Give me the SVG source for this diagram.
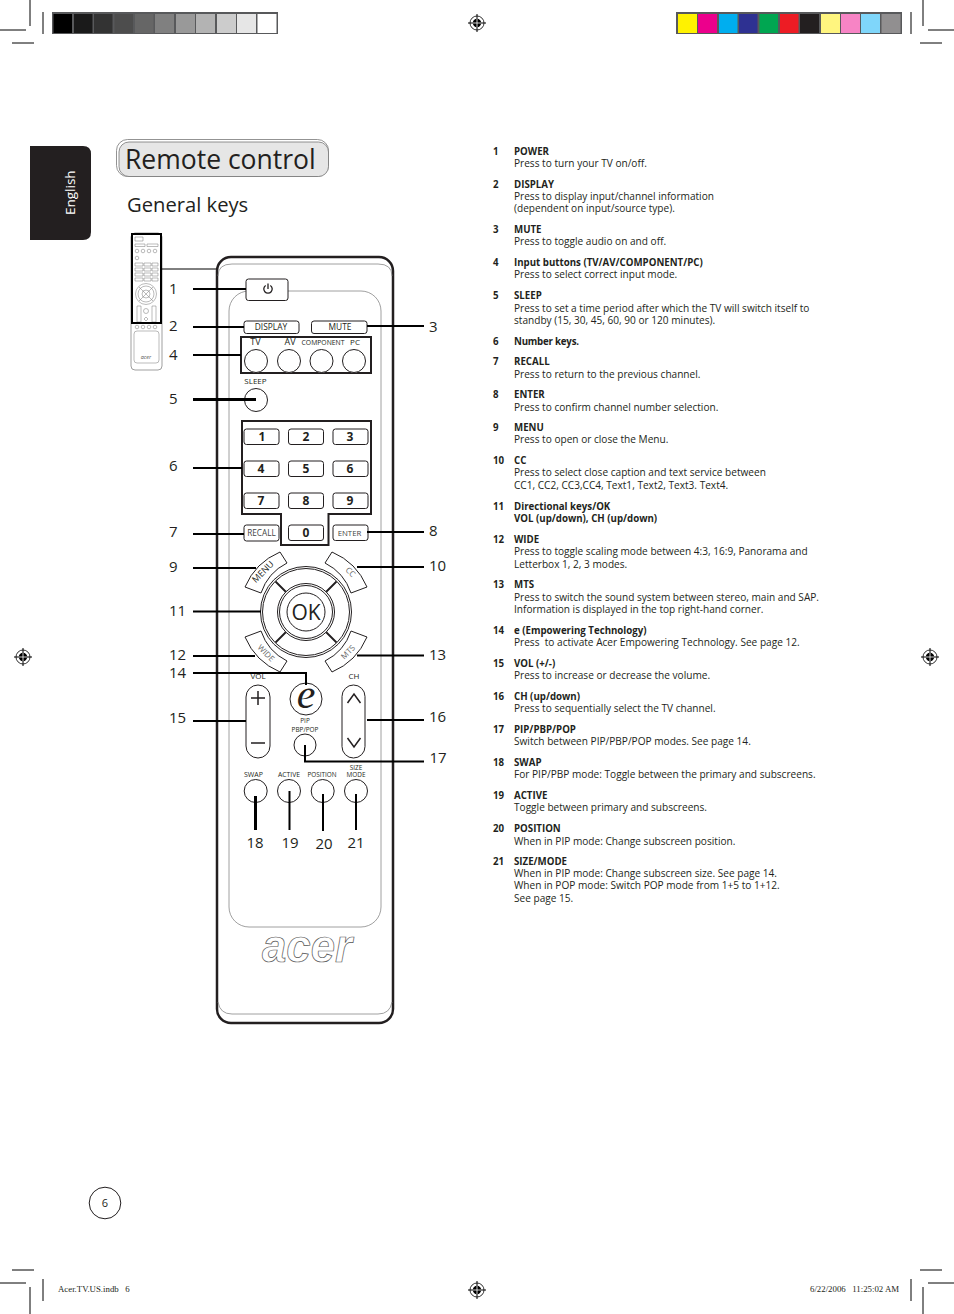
<svg xmlns="http://www.w3.org/2000/svg" width="954" height="1314" viewBox="0 0 954 1314">
<style>
text{font-family:"Open Sans","Noto Sans",sans-serif;fill:#231f20}
.b{font-size:9.7px;font-weight:700}
.t{font-size:10.1px}
.n{font-size:15px}
.k{font-size:8px;text-anchor:middle}
.s{font-size:6.4px;text-anchor:middle}
.d{font-size:12px;font-weight:700;text-anchor:middle}
.f{font-family:"Liberation Serif",serif;font-size:8.8px}
.crop{stroke:#000;stroke-width:1;fill:none}
.btn{fill:#fff;stroke:#231f20;stroke-width:1}
.hi{fill:none;stroke:#231f20;stroke-width:2}
.thin{fill:none;stroke:#888;stroke-width:.8}
.con{fill:none;stroke:#000;stroke-width:2}
.tb{fill:none;stroke:#777;stroke-width:.5}
</style>
<defs>
<g id="reg">
<circle r="7" fill="#fff" stroke="#000" stroke-width=".8"/>
<circle r="4.2" fill="#000"/>
<path d="M-9 0H9M0-9V9" stroke="#000" stroke-width="1"/>
<path d="M-4.2 0H4.2M0-4.2V4.2" stroke="#fff" stroke-width=".8"/>
</g>
<path id="arc" d="M-61-25A66 66 0 0 1-26-60L-19-49A52 52 0 0 0-45-19Z" fill="#fff" stroke="#231f20" stroke-width="1" stroke-linejoin="round"/>
</defs>
<g id="printer-marks">
<path class="crop" d="M30 0V26M0 30H26M43 12V34M12 43H34M923 0V26M928 30H954M911 12V34M920 43H942M12 1270H34M0 1283H26M30 1287V1314M43 1279V1301M920 1270H942M928 1283H954M911 1279V1301M923 1287V1314"/>
<use href="#reg" x="477" y="23"/><use href="#reg" x="23" y="657"/><use href="#reg" x="930" y="657"/><use href="#reg" x="477" y="1290"/>
<rect x="52" y="12" width="226" height="22" fill="#58595b"/>
<g id="gray-bar">
<rect x="53.500" y="14" width="18.500" height="19" fill="#000"/><rect x="74" y="14" width="18.500" height="19" fill="#1a1a1a"/><rect x="94" y="14" width="18.500" height="19" fill="#333"/><rect x="114.500" y="14" width="18.500" height="19" fill="#4d4d4d"/><rect x="135" y="14" width="18.500" height="19" fill="#666"/><rect x="155" y="14" width="19" height="19" fill="#808080"/><rect x="176" y="14" width="19" height="19" fill="#999"/><rect x="196" y="14" width="19" height="19" fill="#b3b3b3"/><rect x="217" y="14" width="19" height="19" fill="#ccc"/><rect x="237" y="14" width="19" height="19" fill="#e6e6e6"/><rect x="257.500" y="14" width="19" height="19" fill="#fff"/>
</g>
<rect x="676" y="12" width="226" height="22" fill="#58595b"/>
<g id="colour-bar">
<rect x="678" y="14" width="19" height="19" fill="#fff200"/><rect x="698" y="14" width="19" height="19" fill="#ec008c"/><rect x="719" y="14" width="18.500" height="19" fill="#00aeef"/><rect x="739" y="14" width="18.500" height="19" fill="#2e3192"/><rect x="759.500" y="14" width="18.500" height="19" fill="#00a651"/><rect x="780" y="14" width="18.500" height="19" fill="#ed1c24"/><rect x="800" y="14" width="19" height="19" fill="#231f20"/><rect x="821" y="14" width="19" height="19" fill="#fff57f"/><rect x="841" y="14" width="19" height="19" fill="#f784c5"/><rect x="861" y="14" width="19" height="19" fill="#7fd6fa"/><rect x="881.500" y="14" width="19" height="19" fill="#918f90"/>
</g>
</g>
<g id="language-tab">
<path d="M30 146H83Q91 146 91 154V232Q91 240 83 240H30Z" fill="#231f20"/>
<text transform="translate(75,215) rotate(-90)" style="fill:#fff;font-size:13.500px">English</text>
</g>
<g id="title">
<rect x="116.500" y="139.500" width="212" height="37" rx="11" fill="#fff" stroke="#777" stroke-width=".8"/>
<rect x="119" y="142" width="209.500" height="34.500" rx="10" fill="#e6e6e6" stroke="#777" stroke-width=".8"/>
<text x="125" y="169" style="font-size:26.500px">Remote control</text>
<text x="127" y="211.500" style="font-size:20.200px">General keys</text>
</g>
<g id="thumbnail">
<rect x="131" y="233" width="31" height="137" rx="4" fill="#fff" stroke="#777" stroke-width=".7"/>
<path class="tb" d="M135 237H143V241H135ZM135 244H145V246.500H135ZM147 244H158V246.500H147ZM135 263H143V266H135ZM144 263H151V266H144ZM152 263H158V266H152ZM135 268H143V271H135ZM144 268H151V271H144ZM152 268H158V271H152ZM135 273H143V276H135ZM144 273H151V276H144ZM152 273H158V276H152ZM135 278H143V281H135ZM144 278H151V281H144ZM152 278H158V281H152ZM137 306H141V322H137ZM152 306H156V322H152ZM146 317L148 319L146 321L144 319ZM139 287L153 301M153 287L139 301"/>
<g class="tb"><circle cx="137" cy="251" r="1.800"/><circle cx="143" cy="251" r="1.800"/><circle cx="149" cy="251" r="1.800"/><circle cx="155" cy="251" r="1.800"/><circle cx="137" cy="258" r="1.800"/><circle cx="146" cy="294" r="10.500"/><circle cx="146" cy="294" r="8"/><circle cx="146" cy="294" r="4"/><circle cx="146" cy="311" r="2.500"/><circle cx="137" cy="327" r="1.800"/><circle cx="143" cy="327" r="1.800"/><circle cx="149" cy="327" r="1.800"/><circle cx="155" cy="327" r="1.800"/><rect x="134" y="331" width="25" height="32" rx="3"/></g>
<text x="146" y="358.500" style="font-size:5.500px;font-style:italic;text-anchor:middle;fill:#555">acer</text>
<rect x="132" y="234" width="29" height="89" fill="none" stroke="#000" stroke-width="2"/>
<path d="M161 269H217" stroke="#000" stroke-width="1" fill="none"/>
</g>
<g id="remote-body">
<rect x="217" y="257" width="176" height="766" rx="14" fill="#fff" stroke="#231f20" stroke-width="2.500"/>
<path class="thin" d="M218 276Q218 264 232 264H378Q392 264 392 276M218 1002Q220 1014 232 1014H378Q390 1014 392 1002"/>
<rect class="thin" x="229" y="291" width="152" height="636" rx="20"/>
</g>
<g id="btn-power"><rect class="btn" x="246" y="279" width="42" height="21.500" rx="2.500"/><path d="M265.700 285.500A4.200 4.200 0 1 0 270.300 285.500M268 283.500V289" fill="none" stroke="#231f20" stroke-width="1.300"/></g>
<g id="btn-display"><rect class="btn" x="244" y="321" width="55" height="12.500" rx="2.500"/><text class="k" x="271" y="330" style="font-size:8.400px">DISPLAY</text></g>
<g id="btn-mute"><rect class="btn" x="311.500" y="321" width="55.500" height="12.500" rx="2.500"/><text class="k" x="340" y="330" style="font-size:8.400px">MUTE</text></g>
<g id="input-buttons">
<rect class="hi" x="241" y="337" width="130" height="36"/>
<circle class="btn" cx="256" cy="361" r="11.500"/><circle class="btn" cx="289" cy="361" r="11.500"/><circle class="btn" cx="321.500" cy="361" r="11.500"/><circle class="btn" cx="354" cy="361" r="11.500"/>
<text class="k" x="255.500" y="345" style="font-size:9px">TV</text><text class="k" x="290" y="345" style="font-size:9px">AV</text><text class="s" x="323" y="344.500" style="font-size:6.800px">COMPONENT</text><text class="k" x="355" y="345">PC</text>
</g>
<g id="btn-sleep"><circle class="btn" cx="256" cy="400" r="11.500"/><text class="k" x="255.500" y="383.500">SLEEP</text></g>
<g id="number-keys">
<path class="hi" d="M242 421H371V514H328.500V545H281V514H242Z"/>
<rect class="btn" x="244" y="429" width="35" height="15.500" rx="2.500"/><rect class="btn" x="288.500" y="429" width="35" height="15.500" rx="2.500"/><rect class="btn" x="333" y="429" width="35" height="15.500" rx="2.500"/>
<rect class="btn" x="244" y="461" width="35" height="15.500" rx="2.500"/><rect class="btn" x="288.500" y="461" width="35" height="15.500" rx="2.500"/><rect class="btn" x="333" y="461" width="35" height="15.500" rx="2.500"/>
<rect class="btn" x="244" y="493" width="35" height="15.500" rx="2.500"/><rect class="btn" x="288.500" y="493" width="35" height="15.500" rx="2.500"/><rect class="btn" x="333" y="493" width="35" height="15.500" rx="2.500"/>
<rect class="btn" x="288.500" y="525" width="35" height="15.500" rx="2.500"/>
<text class="d" x="262" y="441">1</text><text class="d" x="306" y="441">2</text><text class="d" x="350" y="441">3</text>
<text class="d" x="261" y="473">4</text><text class="d" x="306" y="473">5</text><text class="d" x="350" y="473">6</text>
<text class="d" x="261" y="505">7</text><text class="d" x="306" y="505">8</text><text class="d" x="350" y="505">9</text>
<text class="d" x="306" y="537">0</text>
</g>
<g id="btn-recall"><rect class="btn" x="244" y="525" width="35" height="16" rx="2.500"/><text class="k" x="261.500" y="536" style="fill:#444;font-size:8.200px">RECALL</text></g>
<g id="btn-enter"><rect class="btn" x="333" y="525" width="35" height="15.500" rx="2.500"/><text class="k" x="349.500" y="535.500" style="fill:#444;font-size:7.800px">ENTER</text></g>
<g id="nav-pad">
<use href="#arc" transform="translate(306,612)"/><use href="#arc" transform="translate(306,612) scale(-1,1)"/><use href="#arc" transform="translate(306,612) scale(1,-1)"/><use href="#arc" transform="translate(306,612) scale(-1,-1)"/>
<circle cx="306" cy="612" r="45.500" fill="#fff" stroke="#231f20" stroke-width="1"/>
<circle cx="306" cy="612" r="43.500" fill="#fff" stroke="#231f20" stroke-width="1"/>
<path d="M275.500 581.500L287 593M336.500 581.500L325 593M275.500 642.500L287 631M336.500 642.500L325 631" stroke="#231f20" stroke-width="1.800" fill="none"/>
<circle cx="306" cy="612" r="28.500" fill="#fff" stroke="#231f20" stroke-width="1"/>
<circle cx="306" cy="612" r="26.500" fill="#fff" stroke="#231f20" stroke-width="1"/>
<circle cx="306" cy="612" r="19" fill="#fff" stroke="#231f20" stroke-width="1"/>
<text x="306" y="619.500" style="font-size:21px;font-weight:500;text-anchor:middle">OK</text>
<text class="k" transform="translate(265,574) rotate(-45)" style="font-size:9px">MENU</text>
<text class="k" transform="translate(348.500,574) rotate(45)" style="fill:#666">CC</text>
<text class="k" transform="translate(264,655) rotate(45)" style="fill:#666">WIDE</text>
<text class="k" transform="translate(350,654) rotate(-45)" style="fill:#666">MTS</text>
</g>
<g id="btn-e"><circle class="btn" cx="306" cy="699" r="16"/><text x="306" y="708" style="font-family:'Liberation Serif',serif;font-style:italic;font-size:42px;text-anchor:middle">e</text></g>
<g id="btn-vol"><rect class="btn" x="246" y="685" width="24" height="73" rx="12"/><path d="M251 698H265M258 691V705M251 743H265" stroke="#231f20" stroke-width="1.500" fill="none"/><text class="k" x="258" y="679">VOL</text></g>
<g id="btn-ch"><rect class="btn" x="342" y="685" width="23" height="73" rx="11.500"/><path d="M347.500 703L354 694L360.500 703M347.500 738L354 747L360.500 738" stroke="#231f20" stroke-width="1.500" fill="none"/><text class="k" x="354" y="679">CH</text></g>
<g id="btn-pip"><circle class="btn" cx="305" cy="745" r="11"/><text class="s" x="305" y="723">PIP</text><text class="s" x="305" y="731.500">PBP/POP</text></g>
<g id="pip-buttons">
<circle class="btn" cx="255.700" cy="791" r="11.500"/><circle class="btn" cx="289" cy="791" r="11.500"/><circle class="btn" cx="322.700" cy="791" r="11.500"/><circle class="btn" cx="356" cy="791" r="11.500"/>
<text class="s" x="253.500" y="777" style="font-size:7px">SWAP</text><text class="s" x="289" y="777" style="font-size:6.800px">ACTIVE</text><text class="s" x="322" y="777">POSITION</text><text class="s" x="356" y="770">SIZE</text><text class="s" x="356" y="777">MODE</text>
</g>
<g id="logo"><text x="262" y="962" textLength="90" lengthAdjust="spacingAndGlyphs" style="font-family:'Liberation Sans',sans-serif;font-style:italic;font-weight:700;font-size:46px;fill:#fff;stroke:#555;stroke-width:.7">acer</text></g>
<g id="connectors">
<path class="con" d="M193 289H246M193 327H244M367 326H424M193 355H241M193 468H242M193 534H244M367 532H424M193 568H256M357 567H424M193 611.500H261M193 656H255M357 655.500H424M193 673H306V685M193 721H246M367 720H424M305 745V761.500H424M289.500 791V830M323 794V831M356 794V830"/>
<path class="con" style="stroke-width:3" d="M193 399.500H256M255.500 796V830"/>
</g>
<g id="callouts">
<text class="n" x="169" y="294">1</text><text class="n" x="169" y="331">2</text><text class="n" x="429" y="332">3</text><text class="n" x="169" y="360">4</text><text class="n" x="169" y="404">5</text><text class="n" x="169" y="471">6</text><text class="n" x="169" y="537">7</text><text class="n" x="429" y="536">8</text><text class="n" x="169" y="572">9</text><text class="n" x="429" y="571">10</text><text class="n" x="169" y="616">11</text><text class="n" x="169" y="660">12</text><text class="n" x="429" y="660">13</text><text class="n" x="169" y="678">14</text><text class="n" x="169" y="723">15</text><text class="n" x="429" y="722">16</text><text class="n" x="429.500" y="763">17</text><text class="n" x="246.500" y="848">18</text><text class="n" x="281.500" y="848">19</text><text class="n" x="315.500" y="849">20</text><text class="n" x="347.500" y="848">21</text>
</g>
<g id="descriptions" transform="translate(0,-.7)">
<text class="b" x="493" y="155.500">1</text><text class="b" x="514" y="155.500">POWER</text><text class="t" x="514" y="167.500">Press to turn your TV on/off.</text>
<text class="b" x="493" y="188.500">2</text><text class="b" x="514" y="188.500">DISPLAY</text><text class="t" x="514" y="200.500">Press to display input/channel information</text><text class="t" x="514" y="212.500">(dependent on input/source type).</text>
<text class="b" x="493" y="233.500">3</text><text class="b" x="514" y="233.500">MUTE</text><text class="t" x="514" y="245.500">Press to toggle audio on and off.</text>
<text class="b" x="493" y="266.500">4</text><text class="b" x="514" y="266.500">Input buttons (TV/AV/COMPONENT/PC)</text><text class="t" x="514" y="278.500">Press to select correct input mode.</text>
<text class="b" x="493" y="299.500">5</text><text class="b" x="514" y="299.500">SLEEP</text><text class="t" x="514" y="312.500">Press to set a time period after which the TV will switch itself to</text><text class="t" x="514" y="324.500">standby (15, 30, 45, 60, 90 or 120 minutes).</text>
<text class="b" x="493" y="345.500">6</text><text class="b" x="514" y="345.500" textLength="65">Number keys.</text>
<text class="b" x="493" y="365.500">7</text><text class="b" x="514" y="365.500">RECALL</text><text class="t" x="514" y="378.500">Press to return to the previous channel.</text>
<text class="b" x="493" y="398.500">8</text><text class="b" x="514" y="398.500">ENTER</text><text class="t" x="514" y="411.500">Press to confirm channel number selection.</text>
<text class="b" x="493" y="431.500">9</text><text class="b" x="514" y="431.500">MENU</text><text class="t" x="514" y="443.500">Press to open or close the Menu.</text>
<text class="b" x="493" y="464.500">10</text><text class="b" x="514" y="464.500">CC</text><text class="t" x="514" y="477">Press to select close caption and text service between</text><text class="t" x="514" y="489.500">CC1, CC2, CC3,CC4, Text1, Text2, Text3. Text4.</text>
<text class="b" x="493" y="510.500">11</text><text class="b" x="514" y="510.500">Directional keys/OK</text><text class="b" x="514" y="522.500">VOL (up/down), CH (up/down)</text>
<text class="b" x="493" y="543.500">12</text><text class="b" x="514" y="543.500">WIDE</text><text class="t" x="514" y="555.500">Press to toggle scaling mode between 4:3, 16:9, Panorama and</text><text class="t" x="514" y="568.500">Letterbox 1, 2, 3 modes.</text>
<text class="b" x="493" y="588.500">13</text><text class="b" x="514" y="588.500">MTS</text><text class="t" x="514" y="601.500">Press to switch the sound system between stereo, main and SAP.</text><text class="t" x="514" y="613.500">Information is displayed in the top right-hand corner.</text>
<text class="b" x="493" y="634.500">14</text><text class="b" x="514" y="634.500">e (Empowering Technology)</text><text class="t" x="514" y="646.500" xml:space="preserve">Press  to activate Acer Empowering Technology. See page 12.</text>
<text class="b" x="493" y="667.500">15</text><text class="b" x="514" y="667.500">VOL (+/-)</text><text class="t" x="514" y="679.500">Press to increase or decrease the volume.</text>
<text class="b" x="493" y="700.500">16</text><text class="b" x="514" y="700.500">CH (up/down)</text><text class="t" x="514" y="712.500">Press to sequentially select the TV channel.</text>
<text class="b" x="493" y="733.500">17</text><text class="b" x="514" y="733.500">PIP/PBP/POP</text><text class="t" x="514" y="745.500">Switch between PIP/PBP/POP modes. See page 14.</text>
<text class="b" x="493" y="766.500">18</text><text class="b" x="514" y="766.500">SWAP</text><text class="t" x="514" y="778.500">For PIP/PBP mode: Toggle between the primary and subscreens.</text>
<text class="b" x="493" y="799.500">19</text><text class="b" x="514" y="799.500">ACTIVE</text><text class="t" x="514" y="811.500">Toggle between primary and subscreens.</text>
<text class="b" x="493" y="832.500">20</text><text class="b" x="514" y="832.500">POSITION</text><text class="t" x="514" y="845.500">When in PIP mode: Change subscreen position.</text>
<text class="b" x="493" y="865.500">21</text><text class="b" x="514" y="865.500">SIZE/MODE</text><text class="t" x="514" y="877.500">When in PIP mode: Change subscreen size. See page 14.</text><text class="t" x="514" y="889.500">When in POP mode: Switch POP mode from 1+5 to 1+12.</text><text class="t" x="514" y="902.500">See page 15.</text>
</g>
<g id="page-number"><circle cx="105" cy="1203" r="15.800" fill="#fff" stroke="#231f20" stroke-width="1"/><text x="105" y="1207" style="font-size:11px;text-anchor:middle">6</text></g>
<g id="footer"><text class="f" x="58" y="1292" xml:space="preserve">Acer.TV.US.indb   6</text><text class="f" x="810" y="1292" xml:space="preserve">6/22/2006   11:25:02 AM</text></g>
</svg>
